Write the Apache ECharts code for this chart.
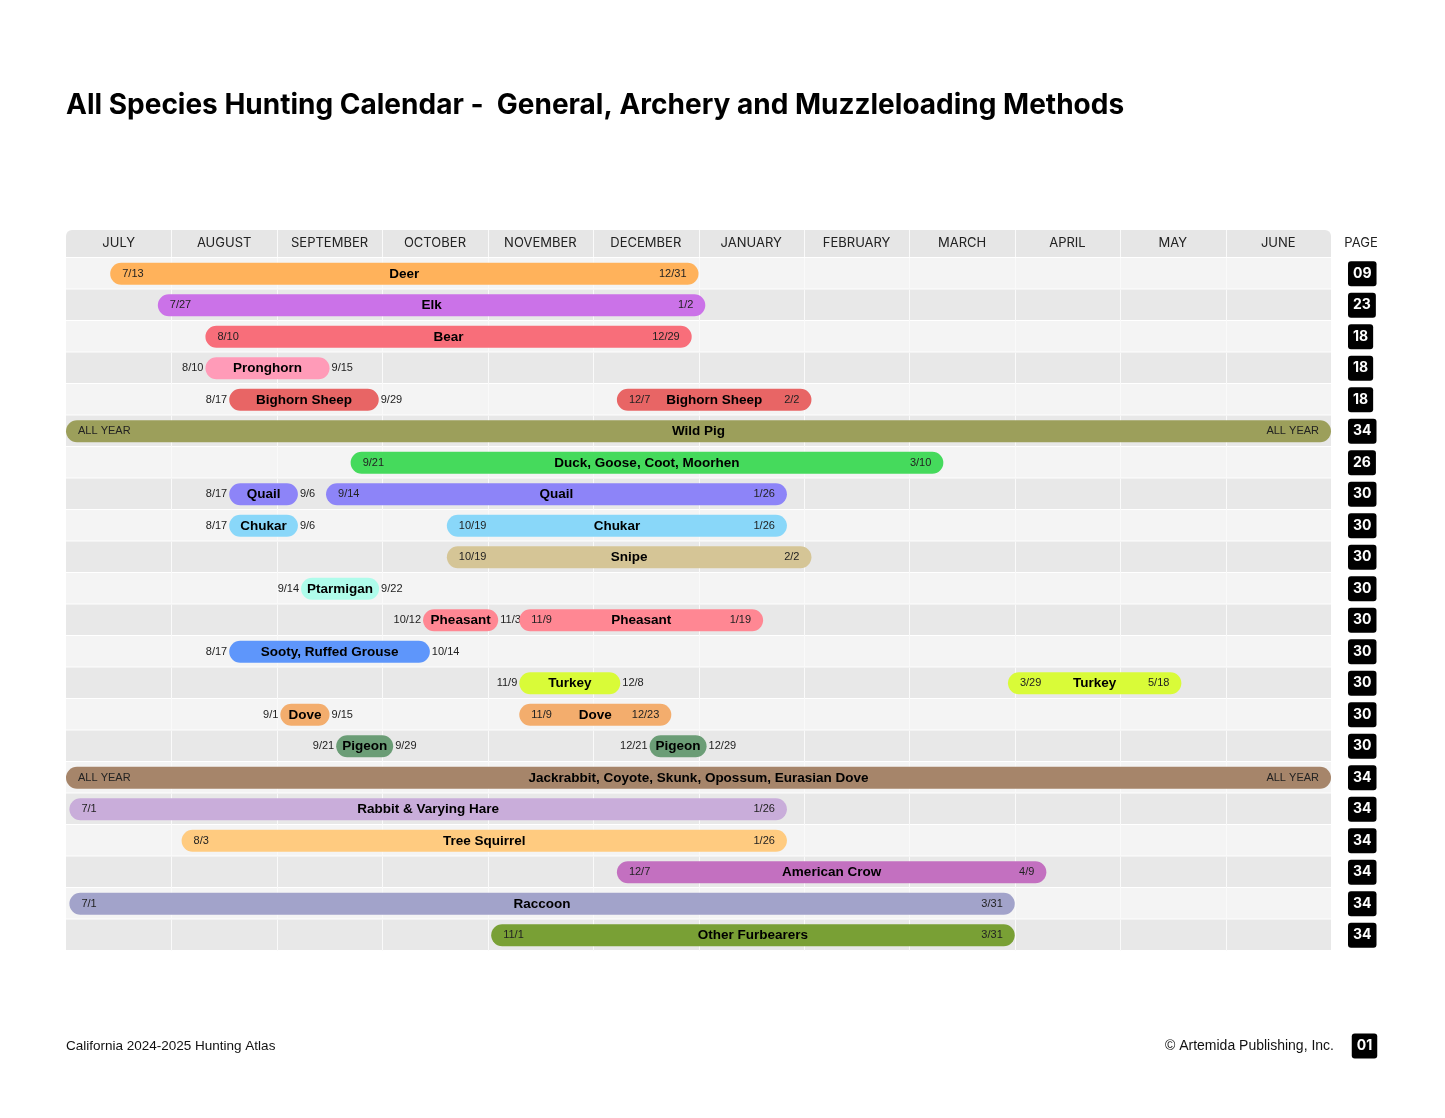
<!DOCTYPE html>
<html><head><meta charset="utf-8">
<script src="https://cdn.jsdelivr.net/npm/echarts@6/dist/echarts.min.js"></script>
<style>html,body{margin:0;padding:0;background:#fff}#c{width:1445px;height:1118px}</style>
</head><body><div id="c"></div>
<script>
// ---------- DATA ----------
const months = ['JULY','AUGUST','SEPTEMBER','OCTOBER','NOVEMBER','DECEMBER','JANUARY','FEBRUARY','MARCH','APRIL','MAY','JUNE'];
const monthNums = [7,8,9,10,11,12,1,2,3,4,5,6];
const monthDays = [31,31,30,31,30,31,31,28,31,30,31,30];

const species = ['Deer','Elk','Bear','Pronghorn','Bighorn Sheep','Wild Pig','Duck, Goose, Coot, Moorhen','Quail','Chukar','Snipe','Ptarmigan','Pheasant','Sooty, Ruffed Grouse','Turkey','Dove','Pigeon','Jackrabbit, Coyote, Skunk, Opossum, Eurasian Dove','Rabbit & Varying Hare','Tree Squirrel','American Crow','Raccoon','Other Furbearers'];
const pages = ['09','23','18','18','18','34','26','30','30','30','30','30','30','30','30','30','34','34','34','34','34','34'];

const seasonRow   = [0,1,2,3,4,4,5,6,7,7,8,8,9,10,11,11,12,13,13,14,14,15,15,16,17,18,19,20,21];
const seasonStart = ['7/13','7/27','8/10','8/10','8/17','12/7','ALL YEAR','9/21','8/17','9/14','8/17','10/19','10/19','9/14','10/12','11/9','8/17','11/9','3/29','9/1','11/9','9/21','12/21','ALL YEAR','7/1','8/3','12/7','7/1','11/1'];
const seasonEnd   = ['12/31','1/2','12/29','9/15','9/29','2/2','ALL YEAR','3/10','9/6','1/26','9/6','1/26','2/2','9/22','11/3','1/19','10/14','12/8','5/18','9/15','12/23','9/29','12/29','ALL YEAR','1/26','1/26','4/9','3/31','3/31'];

const colors = ['#FFB25B','#CB72E8','#F86E7A','#FF9BB8','#E86565','#9C9F5B','#45DA5C','#8D84F8','#89D7F9','#D5C596','#AFFCEB','#FF8793','#5E96FB','#D9FB38','#F3AD6D','#6B9D76','#A6856A','#C9ADDA','#FFCB80','#C370C0','#A2A3CA','#79A035'];

// ---------- HELPERS ----------
function toPos(str, isStart){
  if (str === 'ALL YEAR') return isStart ? 0 : 12;
  const [m, d] = str.split('/').map(Number);
  const idx = monthNums.indexOf(m);
  return idx + d / monthDays[idx];
}
const NAME_FONT = 'bold 13.5px "Liberation Sans", Arial, sans-serif';
const DATE_FONT = '11px "Liberation Sans", Arial, sans-serif';
const _ctx = document.createElement('canvas').getContext('2d');
function measure(t, f){ _ctx.font = f; return _ctx.measureText(t).width; }

const barData = seasonRow.map((r, i) => [toPos(seasonStart[i], true), toPos(seasonEnd[i], false), r]);
const bgData = species.map((s, i) => [0, i]);

function renderBg(params, api){
  const cs = params.coordSys;
  const row = api.value(1);
  const c = api.coord([0, row]);
  const rowH = api.size([0, 1])[1];
  const top = c[1] - rowH / 2;
  const children = [{
    type: 'rect',
    shape: {x: cs.x, y: top, width: cs.width, height: rowH - 1},
    style: {fill: row % 2 ? '#e8e8e8' : '#f4f4f4'}
  }];
  for (let m = 1; m < 12; m++) {
    const x = Math.round(api.coord([m, row])[0]) + 0.5;
    children.push({type: 'line', shape: {x1: x, y1: top, x2: x, y2: top + rowH}, style: {stroke: '#fafafa', lineWidth: 1}});
  }
  if (row === 0) {
    children.push({type: 'rect', shape: {x: cs.x, y: cs.y - 28, width: cs.width, height: 27, r: [6, 6, 0, 0]}, style: {fill: '#e6e6e6'}});
    for (let m = 1; m < 12; m++) {
      const x = Math.round(api.coord([m, row])[0]) + 0.5;
      children.push({type: 'line', shape: {x1: x, y1: cs.y - 28, x2: x, y2: cs.y - 1}, style: {stroke: '#fafafa', lineWidth: 1}});
    }
  }
  return {type: 'group', children};
}

function renderBar(params, api){
  const i = params.dataIndex;
  const row = api.value(2);
  const p0 = api.coord([api.value(0), row]);
  const p1 = api.coord([api.value(1), row]);
  const rowH = api.size([0, 1])[1];
  const h = rowH * 0.7;
  const cy = p0[1];
  let x0 = p0[0], x1 = p1[0];
  const name = species[row];
  const nameW = measure(name, NAME_FONT);
  const sLab = seasonStart[i], eLab = seasonEnd[i];
  const sW = measure(sLab, DATE_FONT), eW = measure(eLab, DATE_FONT);
  if (x1 - x0 < nameW + 12) {
    const c = (x0 + x1) / 2;
    x0 = c - (nameW + 12) / 2; x1 = c + (nameW + 12) / 2;
  }
  const inside = (x1 - x0) >= nameW + 2 * (Math.max(sW, eW) + 22);
  const children = [
    {type: 'rect', shape: {x: x0, y: cy - h / 2, width: x1 - x0, height: h, r: h / 2}, style: {fill: colors[row]}},
    {type: 'text', style: {text: name, x: (x0 + x1) / 2, y: cy + 0.5, align: 'center', verticalAlign: 'middle', font: NAME_FONT, fill: '#000'}}
  ];
  if (inside) {
    children.push({type: 'text', style: {text: sLab, x: x0 + 12, y: cy, align: 'left', verticalAlign: 'middle', font: DATE_FONT, fill: '#222'}});
    children.push({type: 'text', style: {text: eLab, x: x1 - 12, y: cy, align: 'right', verticalAlign: 'middle', font: DATE_FONT, fill: '#222'}});
  } else {
    children.push({type: 'text', style: {text: sLab, x: x0 - 2, y: cy, align: 'right', verticalAlign: 'middle', font: DATE_FONT, fill: '#222'}});
    children.push({type: 'text', style: {text: eLab, x: x1 + 2, y: cy, align: 'left', verticalAlign: 'middle', font: DATE_FONT, fill: '#222'}});
  }
  return {type: 'group', children};
}

const chart = echarts.init(document.getElementById('c'), null, {renderer: 'canvas'});
chart.setOption({
  animation: false,
  backgroundColor: '#ffffff',
  grid: {left: 66, right: 114, top: 258, bottom: 167},
  xAxis: [
    {type: 'value', min: 0, max: 12, show: false},
    {type: 'category', data: months, position: 'top', boundaryGap: true, z: 10,
     axisLine: {show: false}, axisTick: {show: false}, splitLine: {show: false},
     axisLabel: {color: '#222', fontSize: 13, fontFamily: 'Inter, "Noto Sans", sans-serif', margin: 8, interval: 0}}
  ],
  yAxis: {
    type: 'category', data: species, inverse: true, position: 'right',
    axisLine: {show: false}, axisTick: {show: false}, splitLine: {show: false},
    axisLabel: {
      formatter: (v, i) => pages[i],
      color: '#fff', backgroundColor: '#000', borderRadius: 3, padding: [6, 5, 5, 5],
      fontWeight: 'bold', fontSize: 14, fontFamily: 'Inter, "Noto Sans", sans-serif', margin: 17, interval: 0
    }
  },
  graphic: [
    {type: 'text', x: 66, y: 106, style: {text: 'All Species Hunting Calendar -  General, Archery and Muzzleloading Methods', font: 'bold 28px Inter, "Noto Sans", sans-serif', fill: '#000', align: 'left', verticalAlign: 'middle'}},
    {type: 'text', x: 1361, y: 243, style: {text: 'PAGE', font: '13px Inter, "Noto Sans", sans-serif', fill: '#222', align: 'center', verticalAlign: 'middle'}},
    {type: 'text', x: 66, y: 1046, style: {text: 'California 2024-2025 Hunting Atlas', font: '13.5px "Liberation Sans", Arial, sans-serif', fill: '#111', align: 'left', verticalAlign: 'middle'}},
    {type: 'text', x: 1334, y: 1046, style: {text: '© Artemida Publishing, Inc.', font: '14px "Liberation Sans", Arial, sans-serif', fill: '#111', align: 'right', verticalAlign: 'middle'}},
    {type: 'text', x: 1364.5, y: 1046, style: {text: '01', font: 'bold 14px Inter, "Noto Sans", sans-serif', fill: '#fff', align: 'center', verticalAlign: 'middle', backgroundColor: '#000', padding: [6, 5, 5, 5], borderRadius: 3}}
  ],
  series: [
    {type: 'custom', xAxisIndex: 0, yAxisIndex: 0, z: 1, silent: true, renderItem: renderBg, data: bgData, clip: false},
    {type: 'custom', xAxisIndex: 0, yAxisIndex: 0, z: 2, renderItem: renderBar, data: barData, clip: false,
     encode: {x: [0, 1], y: 2}}
  ]
});
</script></body></html>
